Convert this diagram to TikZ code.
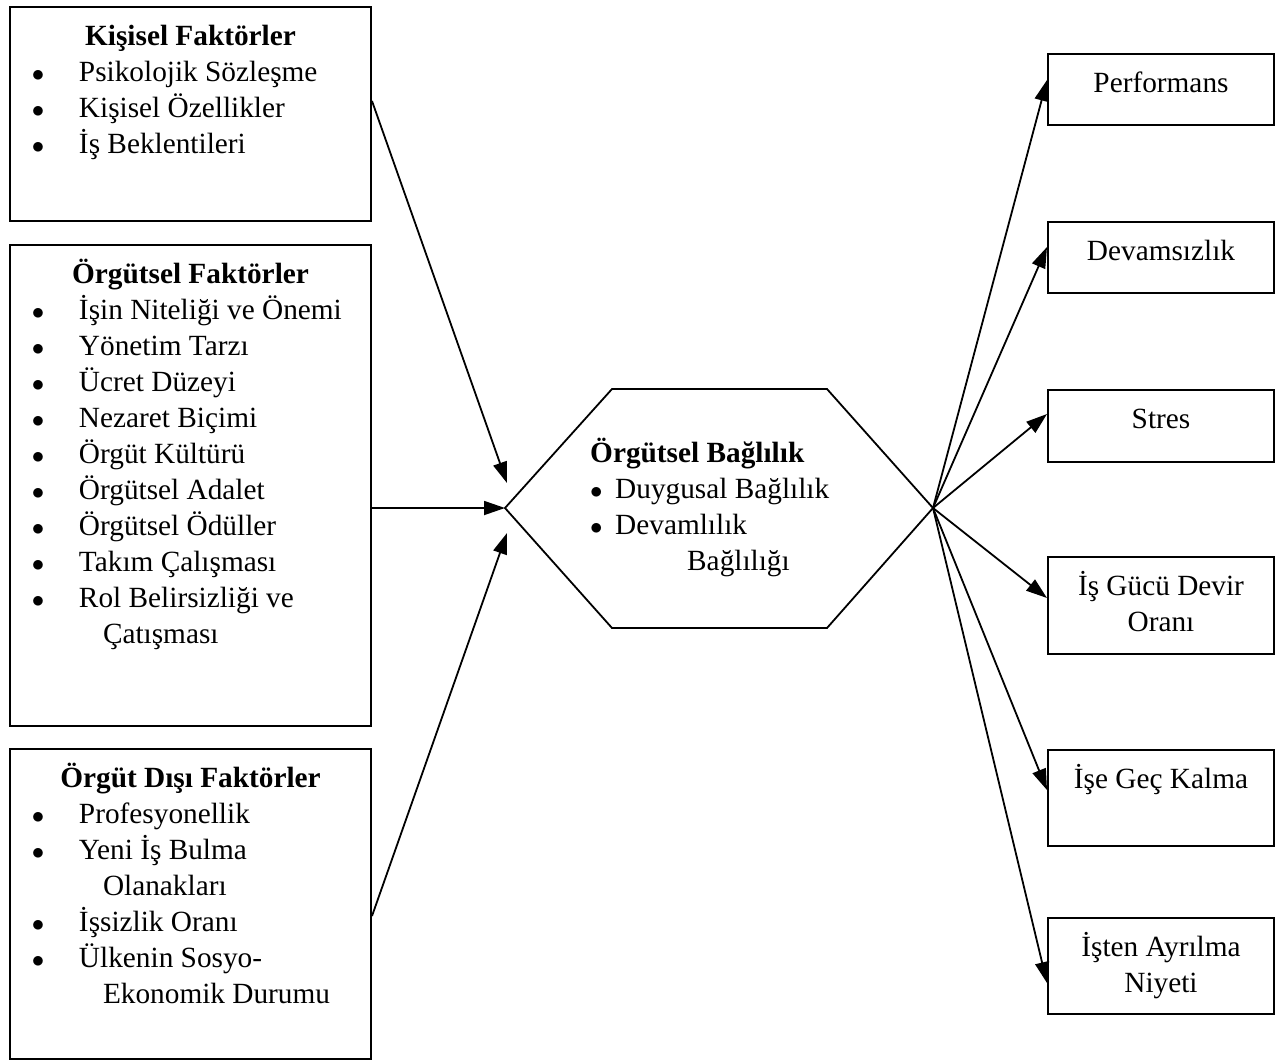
\documentclass[tikz,border=0pt]{standalone}
\usepackage{fontspec}
\setmainfont{Liberation Serif}
\usetikzlibrary{arrows.meta}

\newcommand{\firstline}{\rule{0pt}{38pt}}
\newcommand{\itm}{\par\hspace*{28pt}\makebox[0pt]{$\bullet$}\hspace*{41pt}}
\newcommand{\cnt}{\par\hspace*{93pt}}

\begin{document}
\begin{tikzpicture}[x=1pt,y=-1pt,
    font=\fontsize{29.3}{36}\selectfont,
    factor/.style={draw, rectangle, line width=2pt, anchor=north west, inner sep=0pt},
    link/.style={-{Triangle[length=21pt,width=14pt]}, line width=1.8pt}]
\useasboundingbox (0,0) rectangle (1283,1061);

% left: the three groups of factors
\node[factor] (kisisel) at (9,6) {\parbox[t][214pt][t]{361pt}{{\centering\bfseries\firstline Kişisel Faktörler\par}\raggedright
    \itm Psikolojik Sözleşme
    \itm Kişisel Özellikler
    \itm İş Beklentileri}};
\node[factor] (orgutsel) at (9,244) {\parbox[t][481pt][t]{361pt}{{\centering\bfseries\firstline Örgütsel Faktörler\par}\raggedright
    \itm İşin Niteliği ve Önemi
    \itm Yönetim Tarzı
    \itm Ücret Düzeyi
    \itm Nezaret Biçimi
    \itm Örgüt Kültürü
    \itm Örgütsel Adalet
    \itm Örgütsel Ödüller
    \itm Takım Çalışması
    \itm Rol Belirsizliği ve
    \cnt Çatışması}};
\node[factor] (disi) at (9,748) {\parbox[t][310pt][t]{361pt}{{\centering\bfseries\firstline Örgüt Dışı Faktörler\par}\raggedright
    \itm Profesyonellik
    \itm Yeni İş Bulma
    \cnt Olanakları
    \itm İşsizlik Oranı
    \itm Ülkenin Sosyo-
    \cnt Ekonomik Durumu}};

% middle: commitment hexagon
\coordinate (hexL) at (505,508);
\coordinate (hexR) at (933,508);
\coordinate (inUp) at (507,483);
\coordinate (inDown) at (507,533);
\draw[line width=1.8pt] (hexL) -- (612,389) -- (827,389) -- (hexR) -- (827,628) -- (612,628) -- cycle;
\node[anchor=north west, align=left, inner sep=0pt] (baglilik) at (590,424)
    {\firstline\textbf{Örgütsel Bağlılık}\\
     \makebox[25pt][l]{$\bullet$}Duygusal Bağlılık\\
     \makebox[25pt][l]{$\bullet$}Devamlılık\\
     \hspace*{97pt}Bağlılığı};

% right: outcomes
\node[factor] (perf) at (1047,53) {\parbox[t][71pt][t]{226pt}{\centering\firstline Performans}};
\node[factor] (devam) at (1047,221) {\parbox[t][71pt][t]{226pt}{\centering\firstline Devamsızlık}};
\node[factor] (stres) at (1047,389) {\parbox[t][72pt][t]{226pt}{\centering\firstline Stres}};
\node[factor] (devir) at (1047,556) {\parbox[t][97pt][t]{226pt}{\centering\firstline İş Gücü Devir\\Oranı}};
\node[factor] (gec) at (1047,749) {\parbox[t][96pt][t]{226pt}{\centering\firstline İşe Geç Kalma}};
\node[factor] (ayrilma) at (1047,917) {\parbox[t][96pt][t]{226pt}{\centering\firstline İşten Ayrılma\\Niyeti}};

\draw[link] ([yshift=13pt]kisisel.east) -- (inUp);
\draw[link] (orgutsel.east |- hexL) -- (hexL);
\draw[link] ([yshift=-12pt]disi.east) -- (inDown);

\draw[link] (hexR) -- (perf.west |- 0,80);
\draw[link] (hexR) -- (devam.west |- 0,247);
\draw[link] (hexR) -- (stres.west |- 0,414);
\draw[link] (hexR) -- (devir.west |- 0,598);
\draw[link] (hexR) -- (gec.west |- 0,790);
\draw[link] (hexR) -- (ayrilma.west |- 0,983);
\end{tikzpicture}
\end{document}
